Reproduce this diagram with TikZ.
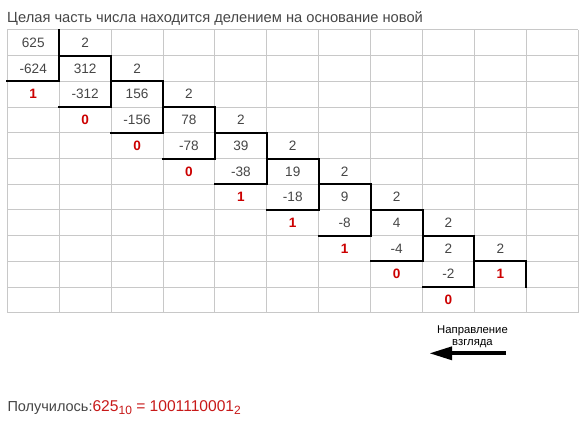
\documentclass[tikz,border=0pt]{standalone}
\usepackage{fontspec}
\setmainfont{Liberation Sans}
\usetikzlibrary{arrows.meta}
\definecolor{txt}{RGB}{70,70,70}
\definecolor{rem}{RGB}{204,0,0}
\definecolor{res}{RGB}{200,25,25}
\definecolor{gridc}{RGB}{200,200,200}
\begin{document}
\begin{tikzpicture}[x=1pt,y=-1pt,
  num/.style={font=\fontsize{13.6}{16}\selectfont, text=txt, inner sep=0pt},
  remd/.style={font=\fontsize{13.6}{16}\selectfont\bfseries, text=rem, inner sep=0pt},
  gridline/.style={draw=gridc, line width=1pt},
  stair/.style={draw=black, line width=2pt, line cap=rect},
  caption/.style={font=\fontsize{14.7}{17}\selectfont, text=txt, inner sep=0pt, anchor=base west}]
\useasboundingbox (0,0) rectangle (585,422);
\fill[white] (0,0) rectangle (585,422);
% cell corner coordinates
\foreach \i in {0,...,11}{\foreach \j in {0,...,11}{
  \coordinate (p-\i-\j) at ({7.3+51.9*\i},{30+25.7*\j});}}
% grid
\foreach \i in {0,...,11}{\draw[gridline] (p-\i-0) -- (p-\i-11);}
\foreach \j in {0,...,11}{\draw[gridline] (p-0-\j) -- (p-11-\j);}
% staircase
\foreach \k in {0,...,8}{
  \pgfmathtruncatemacro\a{\k+1}
  \pgfmathtruncatemacro\b{\k+2}
  \draw[stair] (p-\a-\k) -- (p-\a-\b) -- (p-\k-\b);
  \draw[stair] (p-\a-\a) -- (p-\b-\a);
}
\draw[stair] (p-10-9) -- (p-10-10);
% cell texts
\foreach \c/\r/\t in {0/0/625,0/1/-624,
  1/0/2,2/1/2,3/2/2,4/3/2,5/4/2,6/5/2,7/6/2,8/7/2,9/8/2,
  1/1/312,2/2/156,3/3/78,4/4/39,5/5/19,6/6/9,7/7/4,8/8/2,
  1/2/-312,2/3/-156,3/4/-78,4/5/-38,5/6/-18,6/7/-8,7/8/-4,8/9/-2}{
  \node[num] (n-\c-\r) at ({7.3+51.9*(\c+0.5)},{30+25.7*(\r+0.5)}) {\t};}
\foreach \c/\r/\t in {0/2/1,1/3/0,2/4/0,3/5/0,4/6/1,5/7/1,6/8/1,7/9/0,8/10/0,9/9/1}{
  \node[remd] (r-\c-\r) at ({7.3+51.9*(\c+0.5)},{30+25.7*(\r+0.5)}) {\t};}
% title
\node[caption] (title) at (7,22.7) {Целая часть числа находится делением на основание новой};
% result
\node[caption, font=\fontsize{14.5}{17}\selectfont] (result) at (7.3,411) {Получилось:\textcolor{res}{\fontsize{15.6}{18}\selectfont 625\raisebox{-3pt}{\fontsize{12}{12}\selectfont 10} = 1001110001\raisebox{-3pt}{\fontsize{12}{12}\selectfont 2}}};
% direction
\node[font=\fontsize{11.3}{12.3}\selectfont, align=center, inner sep=0pt, anchor=base] (dir) at (472.5,345.3) {Направление\\взгляда};
\coordinate (ae) at (506,353.3);
\coordinate (at) at (430,353.3);
\draw[line width=4pt, -{Triangle[length=22pt,width=14pt,line width=0pt]}] (ae) -- (at);
\end{tikzpicture}
\end{document}
